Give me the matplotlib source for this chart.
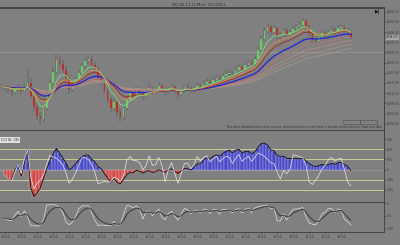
import numpy as np
import pandas as pd
import matplotlib
matplotlib.use("Agg")
import matplotlib.pyplot as plt
from matplotlib.patches import Rectangle

# 2 min bars, NQ 06-11
first_open = 2315.0
closes = [2314.5, 2314.0, 2313.25, 2312.5, 2313.5, 2314.0, 2313.0, 2314.25, 2316.0, 2311.0,
          2306.5, 2303.0, 2301.75, 2306.0, 2311.5, 2316.0, 2320.5, 2325.0, 2323.5, 2321.0,
          2318.0, 2313.5, 2315.0, 2317.5, 2320.0, 2322.5, 2324.5, 2325.5, 2323.0, 2321.5,
          2318.0, 2316.5, 2313.0, 2309.5, 2306.0, 2308.5, 2304.5, 2302.5, 2306.0, 2309.5,
          2312.0, 2311.0, 2313.5, 2312.5, 2311.0, 2313.0, 2314.0, 2312.75, 2313.5, 2315.0,
          2313.75, 2312.5, 2314.0, 2314.5, 2313.0, 2311.5, 2313.0, 2314.25, 2314.0, 2313.0,
          2314.0, 2315.0, 2314.5, 2315.75, 2316.5, 2316.0, 2317.25, 2318.0, 2317.5, 2318.75,
          2319.5, 2320.0, 2319.5, 2321.0, 2322.25, 2321.5, 2323.0, 2324.0, 2323.5, 2325.5,
          2329.0, 2333.5, 2336.5, 2338.0, 2336.0, 2337.5, 2334.5, 2335.0, 2336.5, 2335.0,
          2336.0, 2337.25, 2338.0, 2339.0, 2340.25, 2338.0, 2335.5, 2333.0, 2332.5, 2334.0,
          2335.5, 2334.75, 2336.0, 2337.0, 2336.5, 2337.75, 2338.0, 2336.75, 2336.0, 2334.0]
highs = [2316.0, 2315.25, 2315.0, 2314.0, 2314.75, 2315.5, 2315.0, 2315.75, 2321.5, 2318.0,
         2312.0, 2308.0, 2304.5, 2307.0, 2312.5, 2317.25, 2322.0, 2327.5, 2326.5, 2325.0,
         2322.5, 2319.0, 2316.5, 2318.5, 2321.25, 2324.0, 2326.0, 2327.0, 2326.5, 2324.25,
         2322.5, 2319.5, 2317.5, 2314.0, 2310.5, 2310.0, 2309.5, 2306.0, 2307.0, 2310.5,
         2313.5, 2313.0, 2315.0, 2314.5, 2313.5, 2314.0, 2316.0, 2315.0, 2314.5, 2316.5,
         2315.75, 2314.5, 2315.0, 2315.5, 2315.25, 2313.75, 2314.0, 2315.25, 2315.5, 2314.75,
         2315.0, 2316.25, 2316.0, 2317.0, 2318.0, 2317.5, 2318.5, 2319.5, 2319.0, 2320.0,
         2321.0, 2321.5, 2321.0, 2322.5, 2323.5, 2323.0, 2324.5, 2325.5, 2325.0, 2326.75,
         2330.5, 2335.0, 2338.0, 2339.5, 2339.0, 2338.75, 2338.0, 2336.25, 2337.75, 2337.5,
         2337.25, 2338.5, 2339.25, 2340.5, 2341.5, 2341.0, 2338.75, 2336.0, 2334.25, 2335.0,
         2336.75, 2336.5, 2337.25, 2338.5, 2338.0, 2339.0, 2339.5, 2338.75, 2337.75, 2336.5]
lows = [2313.5, 2312.75, 2312.0, 2311.0, 2311.75, 2312.75, 2311.5, 2312.5, 2313.5, 2310.0,
        2305.0, 2301.5, 2299.5, 2300.75, 2305.0, 2310.5, 2315.0, 2319.5, 2322.0, 2320.0,
        2316.5, 2311.5, 2312.5, 2314.0, 2316.5, 2319.0, 2321.5, 2323.5, 2322.0, 2320.5,
        2317.0, 2315.0, 2311.5, 2308.0, 2304.5, 2305.0, 2303.0, 2300.5, 2301.5, 2305.0,
        2308.75, 2310.0, 2310.25, 2311.5, 2309.5, 2310.25, 2312.25, 2311.75, 2312.0, 2312.75,
        2312.5, 2310.5, 2311.75, 2313.25, 2312.0, 2309.75, 2310.75, 2312.25, 2313.0, 2312.0,
        2312.25, 2313.25, 2313.5, 2313.75, 2315.0, 2315.0, 2315.25, 2316.5, 2316.5, 2316.75,
        2318.0, 2318.75, 2318.5, 2318.75, 2320.25, 2320.5, 2320.75, 2322.25, 2322.5, 2322.75,
        2324.75, 2328.25, 2332.5, 2335.5, 2334.75, 2335.25, 2333.25, 2333.5, 2334.25, 2334.0,
        2334.25, 2335.25, 2336.5, 2337.25, 2338.25, 2337.0, 2334.0, 2331.5, 2331.25, 2331.75,
        2333.25, 2333.75, 2334.0, 2335.25, 2335.5, 2335.75, 2336.75, 2335.5, 2334.75, 2333.25]

time_labels = ["10:02", "10:12", "10:22", "10:32", "10:42", "10:52", "11:02", "11:12",
               "11:22", "11:32", "11:42", "11:52", "12:02", "12:12", "12:22", "12:32",
               "12:42", "12:52", "13:02", "13:12", "13:22", "13:32"]
price_ticks = [2300, 2304, 2308, 2312, 2316, 2320, 2324, 2328, 2332, 2336, 2340, 2344]
cci_ticks = [300, 200, 100, 0, -100, -200]
cci_levels = [200, 100, -100, -200]
wr_ticks = [0, -50, -100]

c = pd.Series(closes)
h = pd.Series(highs)
l = pd.Series(lows)
o = c.shift(1).fillna(first_open)
x = np.arange(len(c))


def cci(tp, n):
    sma = tp.rolling(n, min_periods=2).mean()
    md = tp.rolling(n, min_periods=2).apply(lambda v: np.mean(np.abs(v - v.mean())), raw=True)
    return ((tp - sma) / (0.015 * md)).fillna(0)


BG = "#808080"
DARK = "#3a3a3a"
W, H = 400, 245
fig = plt.figure(figsize=(4, 2.45), dpi=100, facecolor=BG)


def px_axes(x0, y0, x1, y1):
    return fig.add_axes([x0 / W, 1 - y1 / H, (x1 - x0) / W, (y1 - y0) / H])


ax1 = px_axes(0, 8, 384, 130)
ax2 = px_axes(0, 130, 384, 202)
ax3 = px_axes(0, 202, 384, 232)

xl = (-0.625, 119.375)
for ax in (ax1, ax2, ax3):
    ax.set_facecolor(BG)
    ax.set_xlim(*xl)
    for s in ax.spines.values():
        s.set_color(DARK)
        s.set_linewidth(0.6)
    ax.spines["left"].set_visible(False)
    ax.yaxis.tick_right()
    ax.tick_params(axis="y", labelsize=2.2, colors=DARK, length=1.2, width=0.4, pad=0.8)
    ax.tick_params(axis="x", labelsize=2.4, colors=DARK, length=1.5, width=0.4, pad=1)
    ax.set_xticks(np.arange(1, 110, 5))
    ax.set_xticklabels([])

# --- price panel
ax1.set_ylim(2297.5, 2345.5)
ax1.set_yticks(price_ticks)
ax1.set_yticklabels([f"{p:.2f}" for p in price_ticks])
ax1.axhline(2328.25, color="#9a9a9a", lw=0.5)

up = c >= o
body_lo = np.minimum(o, c)
body_h = np.maximum(np.abs(c - o), 0.15)
ax1.vlines(x, l, h, color="#4a4a4a", lw=0.35, zorder=2)
ax1.bar(x[up], body_h[up], bottom=body_lo[up], width=0.45, color="#66cc66", lw=0, zorder=3)
ax1.bar(x[~up], body_h[~up], bottom=body_lo[~up], width=0.45, color="#c82828", lw=0, zorder=3)

ribbon = [(55, "#a09890"), (45, "#a88f80"), (36, "#b88a80"), (28, "#b87474")]
for span, col in ribbon:
    ax1.plot(x, c.ewm(span=span, adjust=False).mean(), color=col, lw=0.6, zorder=4)
ax1.plot(x, c.ewm(span=21, adjust=False).mean(), color="#2a2ad0", lw=1.0, zorder=5)
ax1.plot(x, c.ewm(span=13, adjust=False).mean(), color="#a02828", lw=0.6, zorder=5)
ax1.plot(x, c.ewm(span=10, adjust=False).mean(), color="#e08a40", lw=0.6, zorder=5)
ax1.plot(x, c.ewm(span=6, adjust=False).mean(), color="#7ae07a", lw=0.6, zorder=6)

ax1.text(382 / 384, 1 / 122, "Bar timer disabled since either you are disconnected or current time is outside session time or chart end date",
         transform=ax1.transAxes, fontsize=2.1, color="#303030", ha="right", va="bottom")
fig.text(199 / W, 1 - 4 / H, "NQ 06-11 (2 Min)  4/1/2011", fontsize=2.8, color="#303030",
         ha="center", va="center")
fig.add_artist(plt.Line2D([0, 384 / W], [1 - 7.5 / H] * 2, color=DARK, lw=0.6))
fig.text(378 / W, 1 - 11.5 / H, "▶|", fontsize=3.5, color="#101010", ha="center", va="center")
ax1.add_patch(Rectangle((343 / 384, 6 / 122), 17 / 384, 4 / 122, transform=ax1.transAxes,
                        fill=False, ec="#505050", lw=0.4))
ax1.add_patch(Rectangle((360 / 384, 6 / 122), 17 / 384, 4 / 122, transform=ax1.transAxes,
                        fill=False, ec="#505050", lw=0.4))
ax1.annotate(f"{closes[-1]:.2f}", xy=(1, closes[-1]), xycoords=("axes fraction", "data"),
             xytext=(1.5, 0), textcoords="offset points", fontsize=2.2, color="#202020", va="center",
             bbox=dict(boxstyle="square,pad=0.15", fc="#a8a8a8", ec="none"))

# --- CCI panel
cci_slow = cci(c, 34)
cci_fast = cci((h + l + c) / 3, 6)
ax2.set_ylim(-320, 390)
ax2.set_yticks(cci_ticks)
ax2.set_yticklabels([str(t) for t in cci_ticks])
for lv in cci_levels:
    ax2.axhline(lv, color="#d8d890", lw=0.6, zorder=1)
ax2.axhline(0, color="#9a9a9a", lw=0.5, zorder=1)
pos = cci_slow >= 0
ax2.bar(x[pos], cci_slow[pos], width=1.0, color="#4848c8", ec="#b8b8e8", lw=0.3, zorder=2)
ax2.bar(x[~pos], cci_slow[~pos], width=1.0, color="#d04848", ec="#f0b8b8", lw=0.3, zorder=2)
ax2.plot(x, cci_slow, color="#1a1a1a", lw=0.7, zorder=3)
ax2.plot(x, cci_fast, color="#e8e8e8", lw=0.5, zorder=4)
ax2.text(0.003, 0.86, "CCI (6, 34)", transform=ax2.transAxes, fontsize=2.4, color="#202020",
         va="center", bbox=dict(boxstyle="square,pad=0.2", fc="#e0e0e0", ec="none"))

# --- Williams %R panel
hh = h.rolling(5, min_periods=1).max()
ll = l.rolling(5, min_periods=1).min()
wr = (-100 * (hh - c) / (hh - ll)).fillna(-50)
ax3.set_ylim(-116, 4)
ax3.set_yticks(wr_ticks)
ax3.set_yticklabels([str(t) for t in wr_ticks])
ax3.plot(x, wr, color="#e0e0e0", lw=0.5)
ax3.plot(x, wr.ewm(span=4, adjust=False).mean(), color="#303030", lw=0.6)
ax3.set_xticklabels(time_labels)

fig.savefig("out.png", dpi=100, facecolor=BG)
